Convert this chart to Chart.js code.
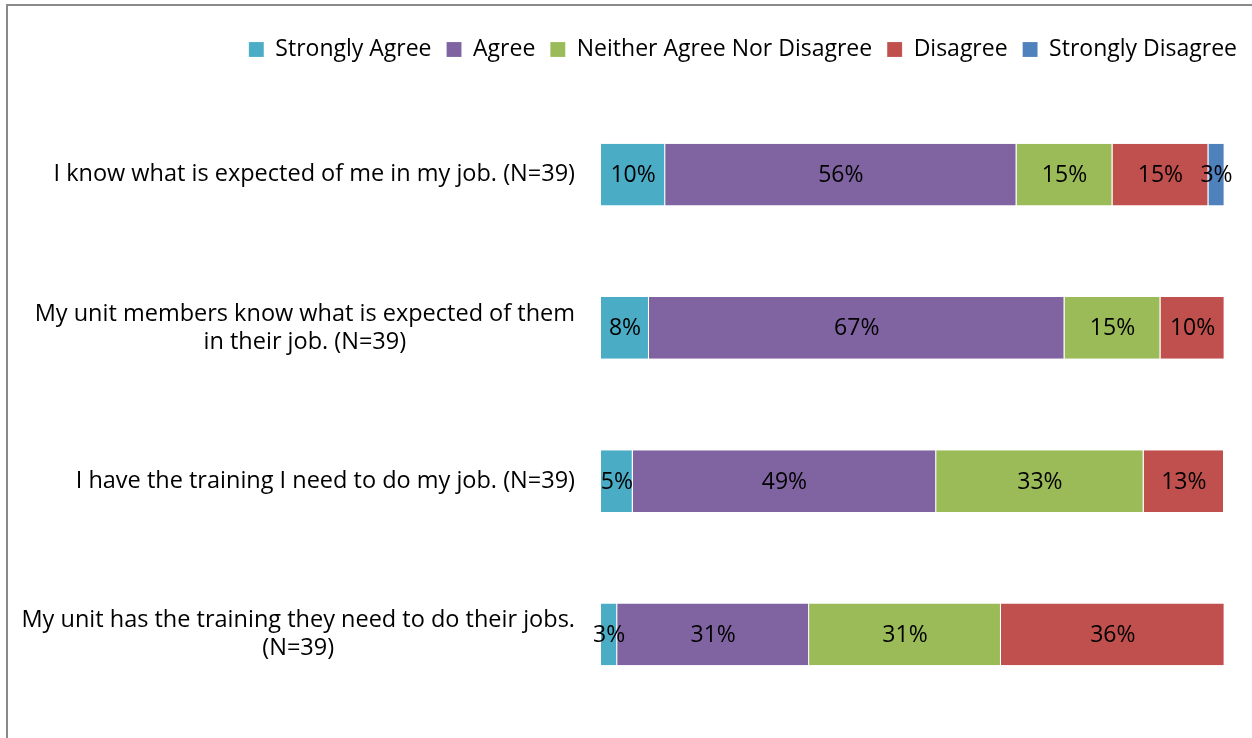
<!DOCTYPE html>
<html>
<head>
<meta charset="utf-8">
<script src="https://cdn.jsdelivr.net/npm/chart.js@4"></script>
<style>
    html, body { margin: 0; padding: 0; background: #fff; overflow: hidden; }
    #wrap { position: absolute; left: 0; top: 0; width: 1252px; height: 738px; }
    #frame { position: absolute; left: 6px; top: 4px; width: 1300px; height: 800px;
             border-left: 2px solid #8a8a8a; border-top: 2px solid #8a8a8a; pointer-events: none; }
</style>
</head>
<body>
<div id="wrap">
    <canvas id="surveyChart" width="1252" height="738"></canvas>
    <div id="frame"></div>
</div>
<script>
// Sorular (kategori etiketleri, satır satır)
const questions = [
    ['I know what is expected of me in my job. (N=39)'],
    ['My unit members know what is expected of them', 'in their job. (N=39)'],
    ['I have the training I need to do my job. (N=39)'],
    ['My unit has the training they need to do their jobs.', '(N=39)']
];

const seriesNames = ['Strongly Agree', 'Agree', 'Neither Agree Nor Disagree', 'Disagree', 'Strongly Disagree'];
const seriesColors = ['#4BACC6', '#8064A2', '#9BBB59', '#C0504D', '#4F81BD'];

// Yüzdeler
const stronglyAgree = [10.3, 7.7, 5.1, 2.6];
const agree = [56.4, 66.7, 48.7, 30.8];
const neither = [15.4, 15.4, 33.3, 30.8];
const disagree = [15.4, 10.3, 12.9, 35.9];
const stronglyDisagree = [2.6, 0, 0, 0];

const seriesValues = [stronglyAgree, agree, neither, disagree, stronglyDisagree];

const FONT = "'Open Sans', 'Noto Sans', sans-serif";

// Soru etiketlerini çiz (satırlar kendi aralarında ortalı, blok sağa yaslı)
const questionLabels = {
    id: 'questionLabels',
    afterDraw(chart) {
        const ctx = chart.ctx;
        const yScale = chart.scales.y;
        const rightEdge = chart.chartArea.left - 26;
        const lineHeight = 28;
        ctx.save();
        ctx.font = '23.5px ' + FONT;
        ctx.fillStyle = '#000';
        ctx.textAlign = 'center';
        ctx.textBaseline = 'middle';
        questions.forEach((lines, i) => {
            const maxW = Math.max(...lines.map(l => ctx.measureText(l).width));
            const cx = rightEdge - maxW / 2;
            const cy = yScale.getPixelForValue(i);
            lines.forEach((line, j) => {
                ctx.fillText(line, cx, cy + (j - (lines.length - 1) / 2) * lineHeight);
            });
        });
        ctx.restore();
    }
};

// Çubuk içi yüzde etiketleri
const barValueLabels = {
    id: 'barValueLabels',
    afterDatasetsDraw(chart) {
        const ctx = chart.ctx;
        ctx.save();
        ctx.font = '23px ' + FONT;
        ctx.fillStyle = '#000';
        ctx.textAlign = 'center';
        ctx.textBaseline = 'middle';
        chart.data.datasets.forEach((ds, di) => {
            chart.getDatasetMeta(di).data.forEach((bar, i) => {
                const v = ds.data[i];
                if (!v) return;
                ctx.fillText(Math.round(v) + '%', (bar.x + bar.base) / 2, bar.y + 1);
            });
        });
        ctx.restore();
    }
};

const ctx = document.getElementById('surveyChart').getContext('2d');
new Chart(ctx, {
    type: 'bar',
    data: {
        labels: questions.map(q => q.join(' ')),
        datasets: seriesNames.map((name, i) => ({
            label: name,
            data: seriesValues[i],
            backgroundColor: seriesColors[i],
            borderColor: 'rgba(255,255,255,0.6)',
            borderWidth: { left: 0, right: 1, top: 0, bottom: 0 },
            borderSkipped: false,
            barPercentage: 0.404,
            categoryPercentage: 1
        }))
    },
    options: {
        indexAxis: 'y',
        responsive: false,
        animation: false,
        devicePixelRatio: 1,
        layout: { padding: { top: 23, bottom: 27, left: 0, right: 0 } },
        plugins: {
            tooltip: { enabled: false },
            legend: {
                position: 'top',
                align: 'end',
                labels: {
                    boxWidth: 15,
                    boxHeight: 15,
                    padding: 15,
                    color: '#000',
                    font: { family: FONT, size: 23 }
                }
            }
        },
        scales: {
            x: {
                stacked: true,
                min: 0,
                max: 100,
                position: 'top',
                grid: { display: false },
                border: { display: false },
                ticks: { display: false },
                afterFit(scale) { scale.height = 27; }
            },
            y: {
                stacked: true,
                grid: { display: false },
                border: { display: false },
                ticks: { display: false },
                afterFit(scale) { scale.width = 601; }
            },
            y2: {
                type: 'category',
                position: 'right',
                labels: questions.map(q => q.join(' ')),
                grid: { display: false },
                border: { display: false },
                ticks: { display: false },
                afterFit(scale) { scale.width = 28; }
            }
        }
    },
    plugins: [questionLabels, barValueLabels]
});
</script>
</body>
</html>
